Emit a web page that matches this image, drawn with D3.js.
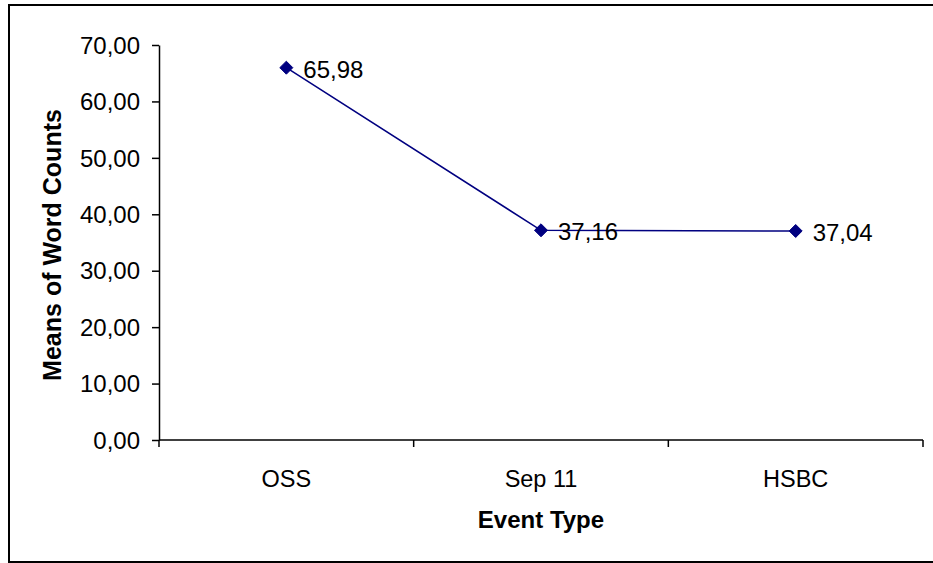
<!DOCTYPE html>
<html>
<head>
<meta charset="utf-8">
<script src="https://cdn.jsdelivr.net/npm/d3@7"></script>
<style>
  body { margin: 0; background: #fff; }
  svg { display: block; }
</style>
</head>
<body>
<div id="chart"></div>
<script>
// DATA
var categories = ['OSS', 'Sep 11', 'HSBC']
var means = [65.98, 37.16, 37.04]
var yTicks = [0, 10, 20, 30, 40, 50, 60, 70]

// GLOBAL
var width = 933
var height = 563
var margin = {top: 45, left: 159, bottom: 123, right: 10}
var plotRight = 923

var svg = d3.select('#chart').append('svg')
  .attr('width', width)
  .attr('height', height)

var fmt = function(v) { return v.toFixed(2).replace('.', ',') }

function attachFont(sel, size, bold) {
  sel.style('font-family', 'Arial, "Liberation Sans", sans-serif')
    .style('font-size', size + 'px')
    .style('font-weight', bold ? 'bold' : 'normal')
    .style('fill', 'black')
}

// outer frame
svg.append('rect')
  .attr('x', 9)
  .attr('y', 5)
  .attr('width', 930)
  .attr('height', 557)
  .style('fill', 'white')
  .style('stroke', 'black')
  .style('stroke-width', 2)

var xMap = d3.scaleBand()
  .domain(categories)
  .range([margin.left, plotRight])

var yMap = d3.scaleLinear()
  .domain([0, 70])
  .range([height - margin.bottom, margin.top])

// y axis
var yAxis = d3.axisLeft(yMap)
  .tickValues(yTicks)
  .tickFormat(fmt)
  .tickSizeInner(7)
  .tickSizeOuter(0)
  .tickPadding(12)

var gY = svg.append('g')
  .attr('transform', 'translate(' + [margin.left, 0] + ')')
  .call(yAxis)
gY.selectAll('path, line').style('stroke', 'black').style('stroke-width', 1.5)
attachFont(gY.selectAll('text'), 24, false)
gY.selectAll('text').attr('dy', '0.34em')

// x axis with ticks between categories
var gX = svg.append('g')
  .attr('transform', 'translate(' + [0, yMap(0)] + ')')
gX.append('line')
  .attr('x1', margin.left)
  .attr('x2', plotRight)
  .style('stroke', 'black')
  .style('stroke-width', 1.5)
var borders = categories.map(function(c) { return xMap(c) }).concat([plotRight])
gX.selectAll('.tk')
  .data(borders)
  .enter().append('line')
  .attr('x1', function(d) { return d })
  .attr('x2', function(d) { return d })
  .attr('y1', 0)
  .attr('y2', 7)
  .style('stroke', 'black')
  .style('stroke-width', 1.5)
var catLab = gX.selectAll('.cat')
  .data(categories)
  .enter().append('text')
  .attr('x', function(d) { return xMap(d) + xMap.bandwidth() / 2 })
  .attr('y', 47)
  .style('text-anchor', 'middle')
  .text(function(d) { return d })
attachFont(catLab, 23.5, false)

// titles
var xTitle = svg.append('text')
  .attr('x', xMap('Sep 11') + xMap.bandwidth() / 2)
  .attr('y', 528)
  .style('text-anchor', 'middle')
  .text('Event Type')
attachFont(xTitle, 24, true)

var yTitle = svg.append('text')
  .attr('transform', 'translate(61,245) rotate(-90)')
  .style('text-anchor', 'middle')
  .text('Means of Word Counts')
attachFont(yTitle, 25, true)

// line
var pts = categories.map(function(c, i) { return {cat: c, value: means[i]} })
var line = d3.line()
  .x(function(d) { return xMap(d.cat) + xMap.bandwidth() / 2 })
  .y(function(d) { return yMap(d.value) })

svg.append('path')
  .datum(pts)
  .attr('d', line)
  .style('fill', 'none')
  .style('stroke', '#000080')
  .style('stroke-width', 1.5)

var sym = d3.symbol().type(d3.symbolDiamond2).size(108)
svg.selectAll('.pt')
  .data(pts)
  .enter().append('path')
  .attr('transform', function(d) {
    return 'translate(' + [xMap(d.cat) + xMap.bandwidth() / 2, yMap(d.value)] + ')'
  })
  .attr('d', sym)
  .style('fill', '#000080')
  .style('stroke', '#000080')

var valLab = svg.selectAll('.val')
  .data(pts)
  .enter().append('text')
  .attr('x', function(d) { return xMap(d.cat) + xMap.bandwidth() / 2 + 17 })
  .attr('y', function(d) { return yMap(d.value) + 10 })
  .text(function(d) { return fmt(d.value) })
attachFont(valLab, 24, false)
</script>
</body>
</html>
